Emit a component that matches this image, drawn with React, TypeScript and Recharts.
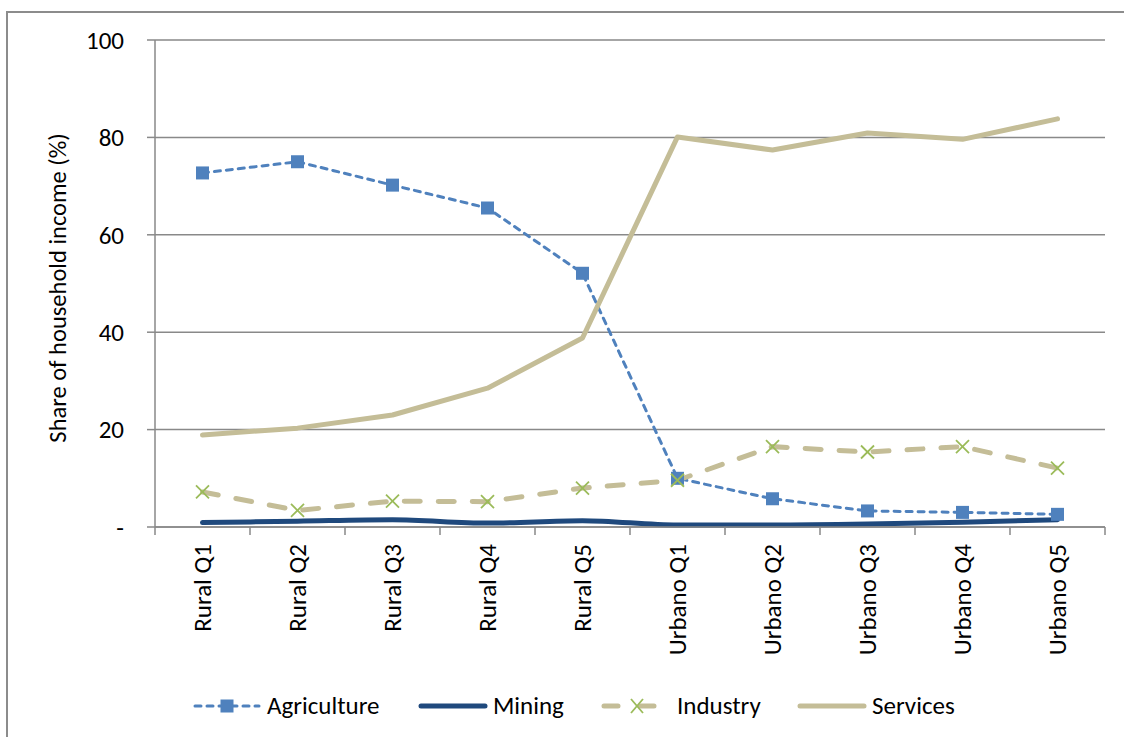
import React from "react";
import {
	LineChart,
	Line,
	XAxis,
	YAxis,
	CartesianGrid,
} from "recharts";

// 各グループの所得構成（%）
const categories = [
	"Rural Q1",
	"Rural Q2",
	"Rural Q3",
	"Rural Q4",
	"Rural Q5",
	"Urbano Q1",
	"Urbano Q2",
	"Urbano Q3",
	"Urbano Q4",
	"Urbano Q5",
];
const agriculture = [72.7, 75.0, 70.2, 65.5, 52.1, 10.0, 5.8, 3.3, 3.0, 2.6];
const mining = [0.9, 1.2, 1.5, 0.8, 1.3, 0.4, 0.4, 0.6, 1.0, 1.5];
const industry = [7.2, 3.4, 5.3, 5.2, 8.0, 9.6, 16.5, 15.4, 16.5, 12.1];
const services = [18.9, 20.3, 23.0, 28.5, 38.8, 80.1, 77.4, 80.9, 79.6, 83.8];
const yTicks = [0, 20, 40, 60, 80, 100];

const data = categories.map((name, i) => ({
	name,
	agriculture: agriculture[i],
	mining: mining[i],
	industry: industry[i],
	services: services[i],
}));

const W = 1124;
const H = 737;
const PLOT_LEFT = 155;
const PLOT_RIGHT = 1105;
const PLOT_TOP = 40;
const PLOT_BOTTOM = 527;
const BAND = (PLOT_RIGHT - PLOT_LEFT) / categories.length;

const FONT = "Carlito, Lato, 'Open Sans', sans-serif";
const FS = 25;
const GRID = "#898989";
const C_AGRI = "#4F81BD";
const C_MINING = "#1F497D";
const C_IND = "#C4BD97";
const C_IND_MARK = "#9BBB59";
const C_SERV = "#C4BD97";

const SquareDot = (props: any) => {
	const { cx, cy } = props;
	if (cx == null || cy == null) return null;
	return <rect x={cx - 6.5} y={cy - 6.5} width={13} height={13} fill={C_AGRI} />;
};

const CrossDot = (props: any) => {
	const { cx, cy } = props;
	if (cx == null || cy == null) return null;
	const s = 6.5;
	return (
		<g stroke={C_IND_MARK} strokeWidth={1.8}>
			<line x1={cx - s} y1={cy - s} x2={cx + s} y2={cy + s} />
			<line x1={cx - s} y1={cy + s} x2={cx + s} y2={cy - s} />
		</g>
	);
};

const CategoryTick = (props: any) => {
	const { x, y, payload, index } = props;
	const last = index === categories.length - 1;
	return (
		<g>
			<line x1={x - BAND / 2} y1={y} x2={x - BAND / 2} y2={y + 8} stroke={GRID} strokeWidth={1.5} />
			{last && (
				<line x1={x + BAND / 2} y1={y} x2={x + BAND / 2} y2={y + 8} stroke={GRID} strokeWidth={1.5} />
			)}
			<text
				transform={`translate(${x},${y + 17}) rotate(-90)`}
				textAnchor="end"
				dominantBaseline="central"
				fontSize={FS}
				fontFamily={FONT}
				fill="#000"
			>
				{payload.value}
			</text>
		</g>
	);
};

const YTitle = () => (
	<text
		transform="translate(58,288) rotate(-90)"
		textAnchor="middle"
		dominantBaseline="central"
		fontSize={24.5}
		fontFamily={FONT}
		fill="#000"
	>
		Share of household income (%)
	</text>
);

const legendItems = [
	{ key: "Agriculture", color: C_AGRI, dash: "6 6", width: 3, marker: "square" },
	{ key: "Mining", color: C_MINING, dash: "", width: 5, marker: "" },
	{ key: "Industry", color: C_IND, dash: "14 22", width: 5, marker: "cross" },
	{ key: "Services", color: C_SERV, dash: "", width: 5, marker: "" },
];
const legendLeft = [192, 418, 601, 797];

function LegendIcon({ item }: { item: (typeof legendItems)[number] }) {
	return (
		<svg width={70} height={20} style={{ display: "block" }}>
			<line
				x1={3}
				y1={10}
				x2={67}
				y2={10}
				stroke={item.color}
				strokeWidth={item.width}
				strokeDasharray={item.dash || undefined}
				strokeLinecap="round"
			/>
			{item.marker === "square" && <rect x={28.5} y={3.5} width={13} height={13} fill={C_AGRI} />}
			{item.marker === "cross" && (
				<g stroke={C_IND_MARK} strokeWidth={1.8}>
					<line x1={30} y1={3} x2={42} y2={17} />
					<line x1={30} y1={17} x2={42} y2={3} />
				</g>
			)}
		</svg>
	);
}

export default function App() {
	return (
		<div
			style={{
				position: "absolute",
				left: 0,
				top: 0,
				width: W,
				height: H,
				overflow: "hidden",
				background: "#fff",
				fontFamily: FONT,
			}}
		>
			<LineChart
				width={W}
				height={H}
				data={data}
				margin={{ top: PLOT_TOP, right: W - PLOT_RIGHT, bottom: 0, left: 0 }}
				style={{ position: "absolute", left: 0, top: 0 }}
			>
				<CartesianGrid vertical={false} stroke={GRID} strokeWidth={1.5} />
				<XAxis
					dataKey="name"
					height={H - PLOT_BOTTOM}
					interval={0}
					padding={{ left: BAND / 2, right: BAND / 2 }}
					tickLine={false}
					tickSize={0}
					tickMargin={0}
					axisLine={{ stroke: GRID, strokeWidth: 1.5 }}
					tick={<CategoryTick />}
				/>
				<YAxis
					width={PLOT_LEFT}
					domain={[0, 100]}
					ticks={yTicks}
					interval={0}
					tickSize={8}
					tickMargin={23}
					tickLine={{ stroke: GRID, strokeWidth: 1.5 }}
					axisLine={{ stroke: GRID, strokeWidth: 1.5 }}
					tick={{ fill: "#000", fontSize: FS, fontFamily: FONT }}
					tickFormatter={(v: number) => (v === 0 ? "-" : String(v))}
					label={<YTitle />}
				/>
				<Line
					dataKey="agriculture"
					type="linear"
					stroke={C_AGRI}
					strokeWidth={3}
					strokeDasharray="6 6"
					strokeLinecap="round"
					dot={<SquareDot />}
					activeDot={false}
					isAnimationActive={false}
				/>
				<Line
					dataKey="mining"
					type="monotone"
					stroke={C_MINING}
					strokeWidth={5}
					strokeLinecap="round"
					dot={false}
					activeDot={false}
					isAnimationActive={false}
				/>
				<Line
					dataKey="industry"
					type="linear"
					stroke={C_IND}
					strokeWidth={5}
					strokeDasharray="16 18"
					strokeLinecap="round"
					dot={<CrossDot />}
					activeDot={false}
					isAnimationActive={false}
				/>
				<Line
					dataKey="services"
					type="linear"
					stroke={C_SERV}
					strokeWidth={5}
					strokeLinecap="round"
					strokeLinejoin="round"
					dot={false}
					activeDot={false}
					isAnimationActive={false}
				/>
			</LineChart>
			{legendItems.map((item, i) => (
				<div
					key={item.key}
					style={{
						position: "absolute",
						left: legendLeft[i],
						top: 692,
						display: "flex",
						alignItems: "center",
						gap: item.marker === "cross" ? 6 : 5,
						fontSize: FS,
						color: "#000",
						lineHeight: "28px",
					}}
				>
					<LegendIcon item={item} />
					<span>{item.key}</span>
				</div>
			))}
			{/* 外枠（左・上のみ見える） */}
			<div
				style={{
					position: "absolute",
					left: 6,
					top: 11,
					width: W,
					height: H,
					pointerEvents: "none",
					borderLeft: "2px solid #8c8c8c",
					borderTop: "2px solid #8c8c8c",
				}}
			/>
		</div>
	);
}
